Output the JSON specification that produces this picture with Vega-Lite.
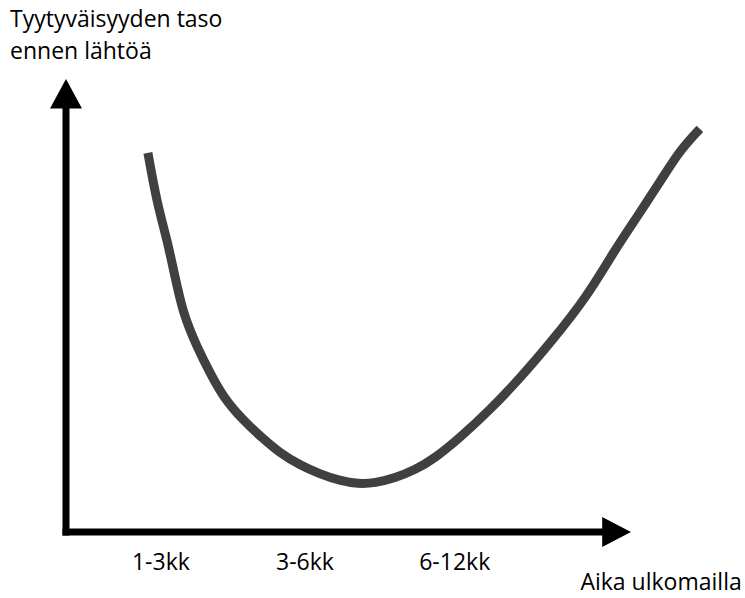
{
  "$schema": "https://vega.github.io/schema/vega-lite/v6.json",
  "width": 745,
  "height": 598,
  "padding": 0,
  "autosize": {"type": "none"},
  "background": "white",
  "config": {"view": {"stroke": null}},
  "datasets": {
    "curve": [
      {"t": 14.5, "s": 83.7}, {"t": 16.1, "s": 72.6}, {"t": 17.9, "s": 64.5}, {"t": 19.3, "s": 56.3},
      {"t": 20.7, "s": 48.3}, {"t": 23.2, "s": 40.8}, {"t": 25.5, "s": 35.1}, {"t": 27.8, "s": 29.8},
      {"t": 31.3, "s": 24.7}, {"t": 34.7, "s": 20.8}, {"t": 37.9, "s": 17.4}, {"t": 41.4, "s": 14.8},
      {"t": 44.9, "s": 12.8}, {"t": 48.5, "s": 11.3}, {"t": 51.7, "s": 10.6}, {"t": 54.7, "s": 10.8},
      {"t": 58.2, "s": 11.9}, {"t": 61.8, "s": 13.7}, {"t": 65.3, "s": 16.3}, {"t": 69.7, "s": 20.8},
      {"t": 75.0, "s": 26.9}, {"t": 80.4, "s": 34.0}, {"t": 85.7, "s": 41.7}, {"t": 92.2, "s": 51.9},
      {"t": 96.8, "s": 61.6}, {"t": 101.1, "s": 69.6}, {"t": 105.7, "s": 78.4}, {"t": 108.7, "s": 84.3},
      {"t": 112.2, "s": 89.0}
    ],
    "shafts": [
      {"x": 0, "x2": 0, "y": 0, "y2": 94},
      {"x": 0, "x2": 95, "y": 0, "y2": 0}
    ],
    "heads": [
      {"x": 0, "y": 100, "dir": "up"},
      {"x": 100, "y": 0, "dir": "right"}
    ],
    "labels": [
      {"x": -9.9, "y": 111.5, "text": "Tyytyväisyyden taso", "al": "left"},
      {"x": -9.9, "y": 104.4, "text": "ennen lähtöä", "al": "left"},
      {"x": 16.8, "y": -8.4, "text": "1-3kk", "al": "center"},
      {"x": 42.3, "y": -8.4, "text": "3-6kk", "al": "center"},
      {"x": 68.8, "y": -8.4, "text": "6-12kk", "al": "center"},
      {"x": 119.6, "y": -12.9, "text": "Aika ulkomailla", "al": "right"}
    ]
  },
  "layer": [
    {
      "data": {"name": "shafts"},
      "mark": {"type": "rule", "color": "black", "strokeWidth": 7, "strokeCap": "square"},
      "encoding": {
        "x": {"field": "x", "type": "quantitative", "scale": {"domain": [-11.68, 120.18], "nice": false, "zero": false}, "axis": null},
        "x2": {"field": "x2"},
        "y": {"field": "y", "type": "quantitative", "scale": {"domain": [-14.57, 117.44], "nice": false, "zero": false}, "axis": null},
        "y2": {"field": "y2"}
      }
    },
    {
      "data": {"name": "heads"},
      "transform": [{"filter": "datum.dir == 'up'"}],
      "mark": {"type": "point", "filled": true, "color": "black", "opacity": 1, "size": 1024, "shape": "M 0 0 L -1 1.85 L 1 1.85 Z"},
      "encoding": {
        "x": {"field": "x", "type": "quantitative", "scale": {"domain": [-11.68, 120.18], "nice": false, "zero": false}, "axis": null},
        "y": {"field": "y", "type": "quantitative", "scale": {"domain": [-14.57, 117.44], "nice": false, "zero": false}, "axis": null}
      }
    },
    {
      "data": {"name": "heads"},
      "transform": [{"filter": "datum.dir == 'right'"}],
      "mark": {"type": "point", "filled": true, "color": "black", "opacity": 1, "size": 1024, "shape": "M 0 0 L -1.8 -0.94 L -1.8 0.94 Z"},
      "encoding": {
        "x": {"field": "x", "type": "quantitative", "scale": {"domain": [-11.68, 120.18], "nice": false, "zero": false}, "axis": null},
        "y": {"field": "y", "type": "quantitative", "scale": {"domain": [-14.57, 117.44], "nice": false, "zero": false}, "axis": null}
      }
    },
    {
      "data": {"name": "curve"},
      "mark": {"type": "line", "color": "#404040", "strokeWidth": 9, "strokeCap": "butt", "strokeJoin": "round", "interpolate": "basis"},
      "encoding": {
        "x": {"field": "t", "type": "quantitative", "scale": {"domain": [-11.68, 120.18], "nice": false, "zero": false}, "axis": null},
        "y": {"field": "s", "type": "quantitative", "scale": {"domain": [-14.57, 117.44], "nice": false, "zero": false}, "axis": null}
      }
    },
    {
      "data": {"name": "labels"},
      "transform": [{"filter": "datum.al == 'left'"}],
      "mark": {"type": "text", "font": "Open Sans", "fontSize": 23, "color": "black", "baseline": "alphabetic", "align": "left"},
      "encoding": {
        "x": {"field": "x", "type": "quantitative", "scale": {"domain": [-11.68, 120.18], "nice": false, "zero": false}, "axis": null},
        "y": {"field": "y", "type": "quantitative", "scale": {"domain": [-14.57, 117.44], "nice": false, "zero": false}, "axis": null},
        "text": {"field": "text"}
      }
    },
    {
      "data": {"name": "labels"},
      "transform": [{"filter": "datum.al == 'center'"}],
      "mark": {"type": "text", "font": "Open Sans", "fontSize": 23, "color": "black", "baseline": "alphabetic", "align": "center"},
      "encoding": {
        "x": {"field": "x", "type": "quantitative", "scale": {"domain": [-11.68, 120.18], "nice": false, "zero": false}, "axis": null},
        "y": {"field": "y", "type": "quantitative", "scale": {"domain": [-14.57, 117.44], "nice": false, "zero": false}, "axis": null},
        "text": {"field": "text"}
      }
    },
    {
      "data": {"name": "labels"},
      "transform": [{"filter": "datum.al == 'right'"}],
      "mark": {"type": "text", "font": "Open Sans", "fontSize": 23, "color": "black", "baseline": "alphabetic", "align": "right"},
      "encoding": {
        "x": {"field": "x", "type": "quantitative", "scale": {"domain": [-11.68, 120.18], "nice": false, "zero": false}, "axis": null},
        "y": {"field": "y", "type": "quantitative", "scale": {"domain": [-14.57, 117.44], "nice": false, "zero": false}, "axis": null},
        "text": {"field": "text"}
      }
    }
  ]
}
